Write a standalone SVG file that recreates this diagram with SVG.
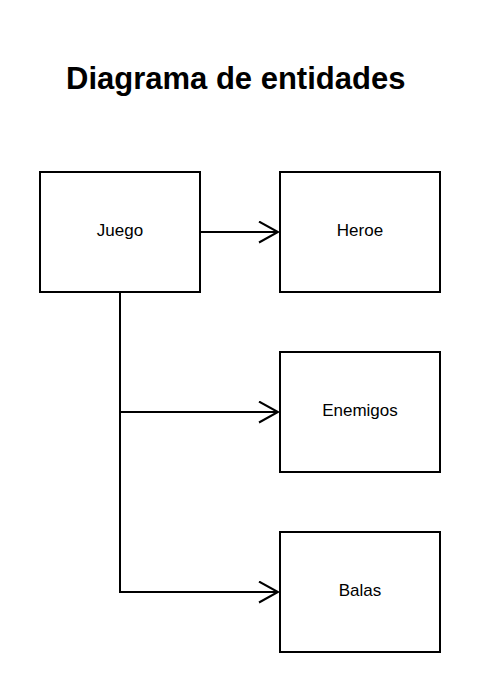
<svg xmlns="http://www.w3.org/2000/svg" width="503" height="693" viewBox="0 0 503 693">
<style>
.box{fill:#fff;stroke:#000;stroke-width:2}
.lbl{font-family:"Liberation Sans",Arial,sans-serif;font-size:17px;fill:#000;text-anchor:middle}
.title{font-family:"Liberation Sans",Arial,sans-serif;font-size:31px;font-weight:bold;fill:#000}
.edge{fill:none;stroke:#000;stroke-width:2}
</style>
<defs>
<marker id="arr" markerUnits="userSpaceOnUse" markerWidth="24" markerHeight="26" refX="20" refY="11.5" orient="auto" viewBox="0 0 24 26">
<path d="M1,1 L20,11.5 L1,22" fill="none" stroke="#000" stroke-width="2"/>
</marker>
</defs>
<rect width="503" height="693" fill="#fff"/>
<text class="title" x="66" y="89">Diagrama de entidades</text>
<g id="connectors">
<path class="edge" d="M200,232 L278,232" marker-end="url(#arr)"/>
<path class="edge" d="M120,292 L120,412 L278,412" marker-end="url(#arr)"/>
<path class="edge" d="M120,412 L120,592 L278,592" marker-end="url(#arr)"/>
</g>
<g id="juego"><rect class="box" x="40" y="172" width="160" height="120"/><text class="lbl" x="120" y="236">Juego</text></g>
<g id="heroe"><rect class="box" x="280" y="172" width="160" height="120"/><text class="lbl" x="360" y="236">Heroe</text></g>
<g id="enemigos"><rect class="box" x="280" y="352" width="160" height="120"/><text class="lbl" x="360" y="416">Enemigos</text></g>
<g id="balas"><rect class="box" x="280" y="532" width="160" height="120"/><text class="lbl" x="360" y="596">Balas</text></g>
</svg>
